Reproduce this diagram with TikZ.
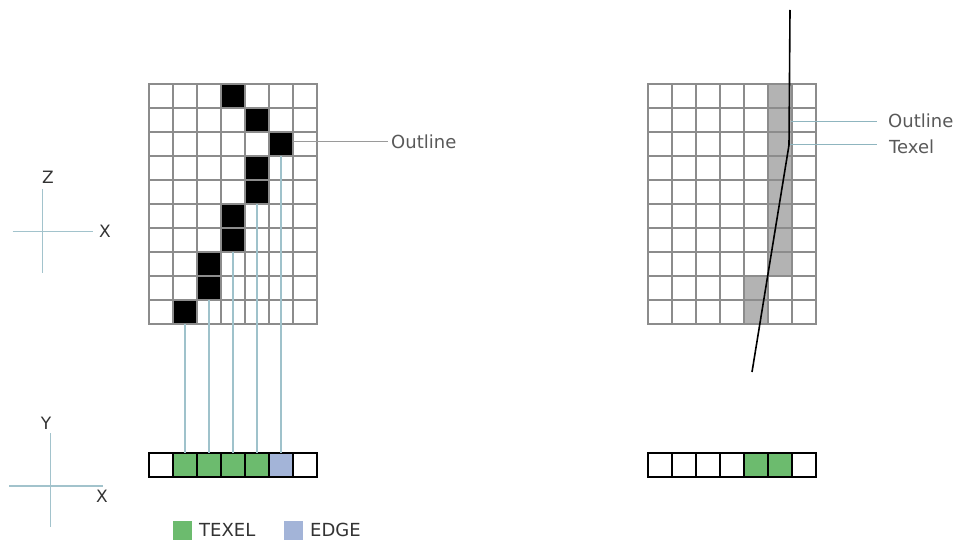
\documentclass[tikz,border=0pt]{standalone}
\usepackage{fontspec}
\setmainfont{DejaVu Sans}
\definecolor{gridgrey}{HTML}{8C8C8C}
\definecolor{axisblue}{HTML}{A2C3CC}
\definecolor{connblue}{HTML}{9FC2CB}
\definecolor{leadgrey}{HTML}{9A9A9A}
\definecolor{leadblue}{HTML}{8FB5BF}
\definecolor{texelgreen}{HTML}{6CBB6E}
\definecolor{edgeblue}{HTML}{A3B4D8}
\definecolor{shadegrey}{HTML}{B3B3B3}
\definecolor{textgrey}{HTML}{595959}
\definecolor{axistext}{HTML}{333333}
\begin{document}
\begin{tikzpicture}[x=1pt,y=-1pt,
  cell/.style={draw=gridgrey,line width=2.7pt,minimum size=24pt,inner sep=0pt,outer sep=0pt},
  bcell/.style={draw=black,line width=2.7pt,minimum size=24pt,inner sep=0pt,outer sep=0pt},
  conn/.style={draw=connblue,line width=1.2pt},
  axisline/.style={draw=axisblue,line width=1.2pt},
  axislbl/.style={text=axistext,font=\fontsize{17}{19}\selectfont,inner sep=0pt},
  lbl/.style={text=textgrey,font=\fontsize{18}{20}\selectfont,anchor=west,inner sep=0pt},
  swatch/.style={minimum size=19pt,inner sep=0pt,outer sep=0pt},
  outlinepath/.style={draw=black,line width=1.6pt}]
\useasboundingbox (0,0) rectangle (957,540);

% left grid
\foreach \r/\b in {0/3,1/4,2/5,3/4,4/4,5/3,6/3,7/2,8/2,9/1}{
  \foreach \c in {0,...,6}{
    \ifnum\c=\b\def\f{black}\else\def\f{white}\fi
    \node[cell,fill=\f] (L-\r-\c) at ({161+24*\c},{96+24*\r}) {};
  }
}

% left bottom row
\foreach \c/\f in {0/white,1/texelgreen,2/texelgreen,3/texelgreen,4/texelgreen,5/edgeblue,6/white}{
  \node[bcell,fill=\f] (B-\c) at ({161+24*\c},465) {};
}

% connectors
\draw[conn] (L-9-1.south) -- (B-1.north);
\draw[conn] (L-8-2.south) -- (B-2.north);
\draw[conn] (L-6-3.south) -- (B-3.north);
\draw[conn] (L-4-4.south) -- (B-4.north);
\draw[conn] (L-2-5.south) -- (B-5.north);

% left outline label
\node[lbl] (lo) at (391,142) {Outline};
\draw[draw=leadgrey,line width=1pt] (L-2-5.east |- lo.west) -- ([xshift=-3pt]lo.west);

% right grid
\foreach \r/\b in {0/5,1/5,2/5,3/5,4/5,5/5,6/5,7/5,8/4,9/4}{
  \foreach \c in {0,...,6}{
    \ifnum\c=\b\def\f{shadegrey}\else\def\f{white}\fi
    \node[cell,fill=\f] (R-\r-\c) at ({660+24*\c},{96+24*\r}) {};
  }
}

% right bottom row
\foreach \c/\f in {0/white,1/white,2/white,3/white,4/texelgreen,5/texelgreen,6/white}{
  \node[bcell,fill=\f] (S-\c) at ({660+24*\c},465) {};
}

% outline line
\coordinate (ot) at (790,10);
\coordinate (ob) at (789,145);
\coordinate (oe) at (752,372);
\draw[outlinepath] (ot) -- (ob) -- (oe);

% right labels
\node[lbl] (ro) at (888,121) {Outline};
\node[lbl] (rt) at (889,147) {Texel};
\coordinate (rla) at (791,122);
\coordinate (rlb) at (790,145);
\draw[draw=leadblue,line width=1pt] (rla) -- ([xshift=-11pt]rla -| ro.west);
\draw[draw=leadblue,line width=1pt] (rlb) -- ([xshift=-12pt]rlb -| rt.west);

% axes Z/X
\coordinate (z1) at (42.7,189);
\coordinate (z2) at (42.7,273);
\coordinate (x1) at (12.7,231.7);
\coordinate (x2) at (93,231.7);
\draw[axisline] (z1) -- (z2);
\draw[axisline] (x1) -- (x2);
\node[axislbl] (zl) at (48,177) {Z};
\node[axislbl] (xl) at (105,231) {X};

% axes Y/X
\coordinate (y1) at (50.7,433);
\coordinate (y2) at (50.7,527);
\coordinate (x3) at (9.3,486);
\coordinate (x4) at (103,486);
\draw[axisline] (y1) -- (y2);
\draw[axisline] (x3) -- (x4);
\node[axislbl] (yl) at (46,423) {Y};
\node[axislbl] (xl2) at (102,496) {X};

% legend
\node[swatch,fill=texelgreen] (lg) at (182,530) {};
\node[lbl,text=axistext] (lgt) at (199,530) {TEXEL};
\node[swatch,fill=edgeblue] (lb) at (293.5,530) {};
\node[lbl,text=axistext] (lbt) at (310,530) {EDGE};
\end{tikzpicture}
\end{document}
